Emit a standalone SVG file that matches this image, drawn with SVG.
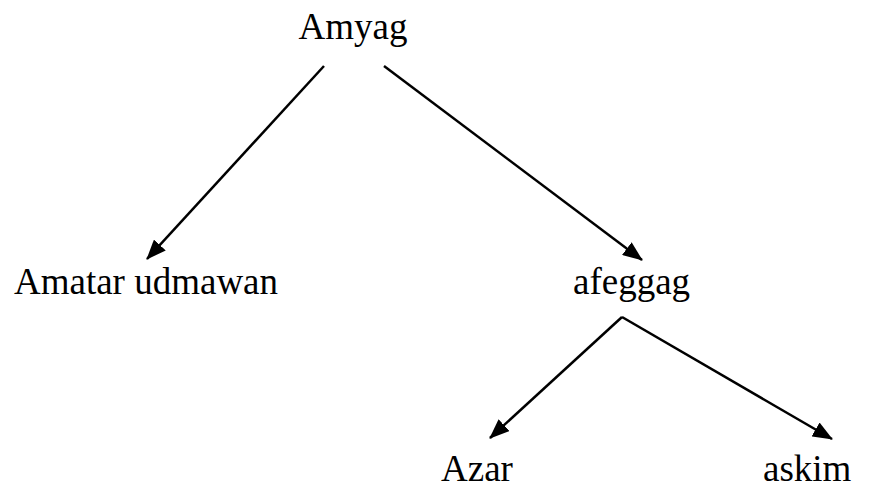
<svg xmlns="http://www.w3.org/2000/svg" width="882" height="491" viewBox="0 0 882 491">
<style>
text{font-family:"Liberation Serif","Times New Roman",serif;font-size:37px;fill:#000}
.c{stroke:#000;stroke-width:2.5;fill:none}
</style>
<defs>
<marker id="ah" markerWidth="20" markerHeight="16" refX="19" refY="8" orient="auto" markerUnits="userSpaceOnUse">
<path d="M0,0 L20,8 L0,16 Z" fill="#000"/>
</marker>
</defs>
<rect width="882" height="491" fill="#fff"/>
<g id="connectors">
<line class="c" x1="324" y1="66" x2="147" y2="259" marker-end="url(#ah)"/>
<line class="c" x1="384" y1="66" x2="642" y2="260" marker-end="url(#ah)"/>
<line class="c" x1="622" y1="317" x2="490" y2="438" marker-end="url(#ah)"/>
<line class="c" x1="622" y1="317" x2="832" y2="439" marker-end="url(#ah)"/>
</g>
<g id="n-amyag"><text x="353" y="39" text-anchor="middle">Amyag</text></g>
<g id="n-amatar"><text x="14" y="294">Amatar udmawan</text></g>
<g id="n-afeggag"><text x="573" y="294">afeggag</text></g>
<g id="n-azar"><text x="441" y="481">Azar</text></g>
<g id="n-askim"><text x="763" y="481">askim</text></g>
</svg>
